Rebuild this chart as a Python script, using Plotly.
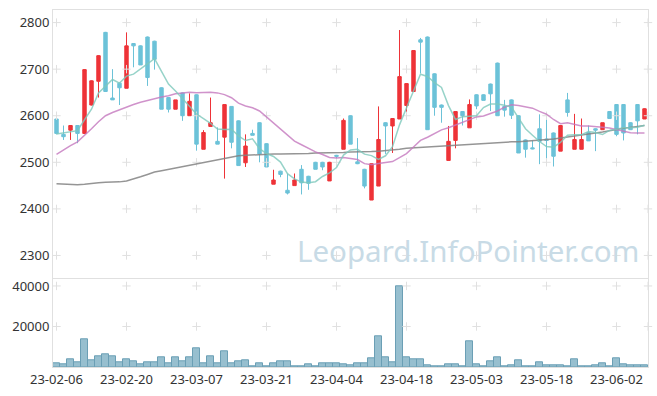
import plotly.graph_objects as go
from plotly.subplots import make_subplots

# ---------------- data ----------------
dates = [
    "2023-02-06", "2023-02-07", "2023-02-08", "2023-02-09", "2023-02-10",
    "2023-02-13", "2023-02-14", "2023-02-15", "2023-02-16", "2023-02-17",
    "2023-02-20", "2023-02-21", "2023-02-22", "2023-02-23", "2023-02-24",
    "2023-02-27", "2023-02-28", "2023-03-02", "2023-03-03", "2023-03-06",
    "2023-03-07", "2023-03-08", "2023-03-09", "2023-03-10", "2023-03-13",
    "2023-03-14", "2023-03-15", "2023-03-16", "2023-03-17", "2023-03-20",
    "2023-03-21", "2023-03-22", "2023-03-23", "2023-03-24", "2023-03-27",
    "2023-03-28", "2023-03-29", "2023-03-30", "2023-03-31", "2023-04-03",
    "2023-04-04", "2023-04-05", "2023-04-06", "2023-04-07", "2023-04-10",
    "2023-04-11", "2023-04-12", "2023-04-13", "2023-04-14", "2023-04-17",
    "2023-04-18", "2023-04-19", "2023-04-20", "2023-04-21", "2023-04-24",
    "2023-04-25", "2023-04-26", "2023-04-27", "2023-04-28", "2023-05-02",
    "2023-05-03", "2023-05-04", "2023-05-08", "2023-05-09", "2023-05-10",
    "2023-05-11", "2023-05-12", "2023-05-15", "2023-05-16", "2023-05-17",
    "2023-05-18", "2023-05-19", "2023-05-22", "2023-05-23", "2023-05-24",
    "2023-05-25", "2023-05-26", "2023-05-30", "2023-05-31", "2023-06-01",
    "2023-06-02", "2023-06-05", "2023-06-07", "2023-06-08", "2023-06-09",
]

opens = [
    2593, 2560, 2569, 2579, 2562, 2623, 2674, 2779, 2638, 2670,
    2659, 2755, 2750, 2769, 2760, 2660, 2639, 2614, 2649, 2600,
    2645, 2528, 2577, 2545, 2554, 2620, 2589, 2499, 2562, 2585,
    2540, 2453, 2481, 2440, 2450, 2485, 2470, 2500, 2500, 2460,
    2515, 2528, 2600, 2501, 2485, 2419, 2449, 2585, 2578, 2593,
    2622, 2652, 2763, 2769, 2690, 2623, 2504, 2547, 2609, 2574,
    2645, 2645, 2668, 2713, 2620, 2634, 2600, 2548, 2531, 2572,
    2550, 2563, 2524, 2634, 2528, 2528, 2564, 2572, 2570, 2609,
    2624, 2624, 2585, 2624, 2593,
]
highs = [
    2594, 2579, 2579, 2580, 2700, 2676, 2730, 2780, 2700, 2671,
    2779, 2756, 2751, 2770, 2761, 2661, 2640, 2634, 2650, 2648,
    2646, 2569, 2639, 2575, 2624, 2620, 2590, 2560, 2570, 2586,
    2541, 2484, 2482, 2476, 2476, 2494, 2471, 2501, 2501, 2501,
    2516, 2594, 2601, 2552, 2486, 2497, 2620, 2586, 2595, 2784,
    2670, 2740, 2767, 2770, 2691, 2624, 2578, 2609, 2610, 2635,
    2646, 2646, 2669, 2714, 2634, 2635, 2601, 2549, 2547, 2603,
    2600, 2564, 2579, 2649, 2604, 2594, 2579, 2573, 2585, 2610,
    2625, 2625, 2586, 2625, 2616,
]
lows = [
    2560, 2548, 2548, 2541, 2561, 2622, 2639, 2652, 2634, 2623,
    2659, 2704, 2709, 2664, 2699, 2614, 2607, 2614, 2589, 2600,
    2525, 2528, 2577, 2539, 2465, 2530, 2493, 2490, 2558, 2500,
    2490, 2453, 2468, 2431, 2450, 2431, 2441, 2485, 2483, 2460,
    2507, 2528, 2539, 2496, 2444, 2419, 2449, 2518, 2520, 2593,
    2593, 2652, 2691, 2570, 2600, 2585, 2504, 2530, 2579, 2574,
    2614, 2633, 2610, 2600, 2598, 2593, 2520, 2510, 2528, 2496,
    2500, 2491, 2524, 2598, 2528, 2528, 2546, 2524, 2570, 2594,
    2556, 2547, 2570, 2560, 2593,
]
closes = [
    2562, 2555, 2579, 2562, 2699, 2675, 2729, 2652, 2634, 2660,
    2750, 2750, 2709, 2682, 2721, 2614, 2614, 2634, 2600, 2631,
    2539, 2564, 2585, 2539, 2624, 2543, 2493, 2535, 2558, 2518,
    2490, 2462, 2474, 2434, 2462, 2456, 2455, 2485, 2490, 2500,
    2513, 2590, 2539, 2497, 2449, 2497, 2549, 2578, 2594, 2684,
    2669, 2740, 2758, 2570, 2618, 2618, 2545, 2609, 2600, 2624,
    2621, 2633, 2647, 2600, 2612, 2601, 2520, 2528, 2529, 2545,
    2547, 2513, 2579, 2607, 2549, 2549, 2546, 2569, 2585, 2594,
    2560, 2563, 2570, 2589, 2615,
]
volumes = [
    2000, 1100, 3700, 2100, 13500, 3100, 5500, 6500, 5500, 2100,
    4000, 2600, 1100, 2100, 2100, 5000, 1600, 5000, 2600, 5000,
    9400, 1600, 5500, 1600, 7900, 1600, 2600, 3500, 400, 1600,
    600, 1600, 2600, 2600, 600, 150, 1100, 400, 1600, 2000,
    2000, 1500, 1000, 2000, 2000, 4400, 15100, 4900, 2500, 39900,
    4900, 3900, 3900, 1000, 500, 500, 1500, 1500, 150, 12700,
    1500, 500, 2900, 4900, 500, 1000, 3400, 150, 500, 2500,
    1000, 1000, 1000, 500, 3900, 500, 150, 1000, 2000, 150,
    4400, 1500, 1000, 1000, 1000,
]

# moving-average values before enough in-window closes exist
ma5_head = [2561, 2563, 2566, 2568]
ma20_head = [2517, 2527, 2536, 2544, 2557, 2572, 2587, 2600, 2607, 2613,
             2618, 2624, 2629, 2633, 2636, 2640, 2643, 2647, 2649]
# long moving average (gray)
ma_long = [
    2454, 2453, 2452, 2452, 2453, 2455, 2456, 2457, 2457, 2458,
    2460, 2464, 2469, 2474, 2479, 2482, 2485, 2487, 2490, 2493,
    2496, 2499, 2503, 2506, 2509, 2512, 2514, 2515, 2516, 2517,
    2518, 2518, 2518, 2518, 2519, 2519, 2519, 2520, 2520, 2521,
    2521, 2521, 2522, 2522, 2522, 2523, 2524, 2525, 2526, 2528,
    2530, 2531, 2532, 2533, 2534, 2535, 2535, 2536, 2537, 2538,
    2539, 2540, 2541, 2542, 2543, 2544, 2544, 2545, 2546, 2547,
    2548, 2550, 2552, 2554, 2556, 2558, 2560, 2563, 2565, 2568,
    2571, 2573, 2575, 2577, 2579,
]

tick_labels = ["23-02-06", "23-02-20", "23-03-07", "23-03-21", "23-04-04",
               "23-04-18", "23-05-03", "23-05-18", "23-06-02"]
price_ticks = [2300, 2400, 2500, 2600, 2700, 2800]
volume_ticks = [20000, 40000]


def moving_average(vals, n, head):
    out = list(head)
    for i in range(len(head), len(vals)):
        out.append(sum(vals[i - n + 1:i + 1]) / n)
    return out


ma5 = moving_average(closes, 5, ma5_head)
ma20 = moving_average(closes, 20, ma20_head)

# ---------------- styling ----------------
RED = "#ee3338"
BLUE = "#6cc2d8"
GRID = "#e0e0e0"
FRAME = "#e0e0e0"
FONT = "Noto Sans"

n = len(dates)
xs = list(range(n))
tickvals = [dates.index("20" + t) for t in tick_labels]
grid_x = tickvals + [n - 0.5]

fig = make_subplots(rows=2, cols=1, shared_xaxes=True, vertical_spacing=0,
                    row_heights=[0.7515, 0.2485])

# grid crosses
cross = dict(symbol="cross-thin", size=6, line=dict(width=1, color=GRID))
fig.add_trace(go.Scatter(
    x=[gx for gy in price_ticks for gx in grid_x],
    y=[gy for gy in price_ticks for gx in grid_x],
    mode="markers", hoverinfo="skip", marker=cross, cliponaxis=False),
    row=1, col=1)
fig.add_trace(go.Scatter(
    x=[gx for gy in volume_ticks for gx in grid_x],
    y=[gy for gy in volume_ticks for gx in grid_x],
    mode="markers", hoverinfo="skip", marker=cross, cliponaxis=False),
    row=2, col=1)

fig.add_trace(go.Candlestick(
    x=xs, open=opens, high=highs, low=lows, close=closes,
    increasing=dict(line=dict(color=RED, width=1), fillcolor=RED),
    decreasing=dict(line=dict(color=BLUE, width=1), fillcolor=BLUE),
    whiskerwidth=0, hoverinfo="skip"), row=1, col=1)

fig.add_trace(go.Scatter(x=xs, y=ma_long, mode="lines",
                         line=dict(color="rgba(130,130,130,0.85)", width=1.5),
                         hoverinfo="skip"), row=1, col=1)
fig.add_trace(go.Scatter(x=xs, y=ma20, mode="lines",
                         line=dict(color="rgba(196,120,190,0.8)", width=1.5),
                         hoverinfo="skip"), row=1, col=1)
fig.add_trace(go.Scatter(x=xs, y=ma5, mode="lines",
                         line=dict(color="rgba(125,200,188,0.8)", width=1.5),
                         hoverinfo="skip"), row=1, col=1)

fig.add_trace(go.Bar(x=xs, y=volumes,
                     marker=dict(color="#97bfcf", line=dict(color="#6b9fb5", width=1)),
                     hoverinfo="skip"), row=2, col=1)

fig.add_annotation(text="Leopard.InfoPointer.com", xref="paper", yref="paper",
                   x=0.697, y=0.326, xanchor="center", yanchor="middle",
                   showarrow=False,
                   font=dict(family=FONT, size=29.5, color="#c8dbe6"))

axis_common = dict(showgrid=False, zeroline=False, showline=True, mirror=True,
                   linecolor=FRAME, linewidth=1, ticks="", automargin=False,
                   tickfont=dict(family=FONT, size=13, color="#333333"))

fig.update_xaxes(range=[-0.5, n - 0.5], rangeslider_visible=False, **axis_common)
fig.update_xaxes(showticklabels=False, row=1, col=1)
fig.update_xaxes(tickvals=tickvals, ticktext=tick_labels, showticklabels=True,
                 mirror=False, row=2, col=1)
fig.update_yaxes(**axis_common)
fig.update_yaxes(range=[2251, 2827], tickvals=price_ticks, row=1, col=1)
fig.update_yaxes(range=[0, 43780], tickvals=volume_ticks, tickformat="d",
                 row=2, col=1)

fig.update_layout(width=657, height=396,
                  margin=dict(l=53, r=9, t=10, b=29, autoexpand=False),
                  plot_bgcolor="white", paper_bgcolor="white",
                  showlegend=False, bargap=0,
                  font=dict(family=FONT, size=13, color="#333333"))

fig.write_html("out.html", config={"displayModeBar": False},
               post_script="document.body.style.margin='0px';"
                           "document.body.style.overflow='hidden';")
